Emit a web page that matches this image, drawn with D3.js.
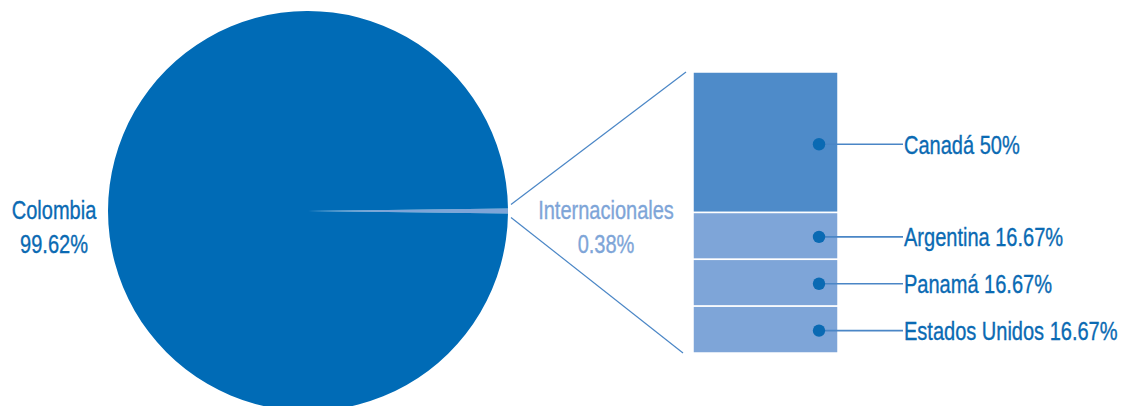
<!DOCTYPE html>
<html>
<head>
<meta charset="utf-8">
<script src="https://cdn.jsdelivr.net/npm/d3@7"></script>
<style>
  html, body { margin: 0; padding: 0; background: #fff; }
  svg { display: block; }
  text { font-family: "Liberation Sans", Arial, sans-serif; font-size: 26px; }
</style>
</head>
<body>
<svg id="chart" width="1121" height="406"></svg>
<script>
// Origin of participants: national vs. international, with the international share broken down
const pieCategories = ["Internacionales", "Colombia"];
const pieValues = [0.38, 99.62];
const pieLabels = ["0.38%", "99.62%"];

const barCategories = ["Canadá", "Argentina", "Panamá", "Estados Unidos"];
const barValues = [50, 16.67, 16.67, 16.67];
const barLabels = ["50%", "16.67%", "16.67%", "16.67%"];

const W = 1121, H = 406;
const svg = d3.select("#chart");

const colMain = "#006bb6";
const colSmall = "#7ea5d8";
const colBig = "#4e8bc9";
const colDark = "#0a6ab3";
const colLine = "#4a86c6";
const narrow = 0.77; // horizontal squeeze for a condensed look

// Draws a condensed text line anchored at (x, y)
function condText(parent, x, y, str, anchor, fill) {
  return parent.append("g")
    .attr("transform", `translate(${x},${y}) scale(${narrow},1)`)
    .append("text")
    .attr("text-anchor", anchor)
    .attr("fill", fill)
    .attr("stroke", fill)
    .attr("stroke-width", 0.35)
    .text(str);
}

// ---- Pie ----
const cx = 308, cy = 211, R = 200;
const smallAngle = 2 * Math.PI * pieValues[0] / d3.sum(pieValues);
const pie = d3.pie().sort(null).value(d => d)
  .startAngle(Math.PI / 2 - smallAngle / 2)
  .endAngle(Math.PI / 2 - smallAngle / 2 + 2 * Math.PI);
const arcs = pie(pieValues);
const arc = d3.arc().innerRadius(0).outerRadius(R);

const gPie = svg.append("g").attr("transform", `translate(${cx},${cy})`);
gPie.selectAll("path").data(arcs).join("path")
  .attr("d", arc)
  .attr("fill", (d, i) => i === 0 ? colSmall : colMain);

// ---- Stacked bar ----
const barX = 693, barW = 145;
const y = d3.scaleLinear().domain([0, d3.sum(barValues)]).range([72, 353]);
let acc = 0;
const stack = barValues.map((v, i) => {
  const s = { cat: barCategories[i], label: barLabels[i], y0: acc, y1: acc + v, i };
  acc += v;
  return s;
});

const gBar = svg.append("g");
gBar.selectAll("rect").data(stack).join("rect")
  .attr("x", barX)
  .attr("y", d => y(d.y0))
  .attr("width", barW)
  .attr("height", d => y(d.y1) - y(d.y0))
  .attr("fill", d => d.i === 0 ? colBig : colSmall)
  .attr("stroke", "#fff")
  .attr("stroke-width", 1.5);

// ---- Connector lines from the small slice to the bar ----
const a0 = arcs[0].startAngle, a1 = arcs[0].endAngle;
const pt = (a, r) => [cx + r * Math.sin(a), cy - r * Math.cos(a)];
const p0 = pt(a0, R + 3), p1 = pt(a1, R + 3);
svg.append("line")
  .attr("x1", p0[0]).attr("y1", p0[1] - 4)
  .attr("x2", barX - 7).attr("y2", y(0))
  .attr("stroke", colLine).attr("stroke-width", 1.2);
svg.append("line")
  .attr("x1", p1[0]).attr("y1", p1[1] + 4)
  .attr("x2", barX - 10).attr("y2", y(d3.sum(barValues)))
  .attr("stroke", colLine).attr("stroke-width", 1.2);

// ---- Bar labels with leader lines ----
const dotX = 819, lineEnd = 903;
const gLab = svg.append("g");
stack.forEach(d => {
  const yy = (y(d.y0) + y(d.y1)) / 2 + (d.i === 0 ? 2 : 1);
  gLab.append("line")
    .attr("x1", dotX).attr("y1", yy).attr("x2", lineEnd).attr("y2", yy)
    .attr("stroke", colLine).attr("stroke-width", 1.6);
  gLab.append("circle")
    .attr("cx", dotX).attr("cy", yy).attr("r", 6.2).attr("fill", colDark);
  condText(gLab, lineEnd + 1, yy + 9.5, `${d.cat} ${d.label}`, "start", colDark);
});

// ---- Pie labels ----
condText(svg, 54, 219, pieCategories[1], "middle", colDark);
condText(svg, 54, 253, pieLabels[1], "middle", colDark);

condText(svg, 606, 219, pieCategories[0], "middle", colSmall);
condText(svg, 606, 253, pieLabels[0], "middle", colSmall);
</script>
</body>
</html>
